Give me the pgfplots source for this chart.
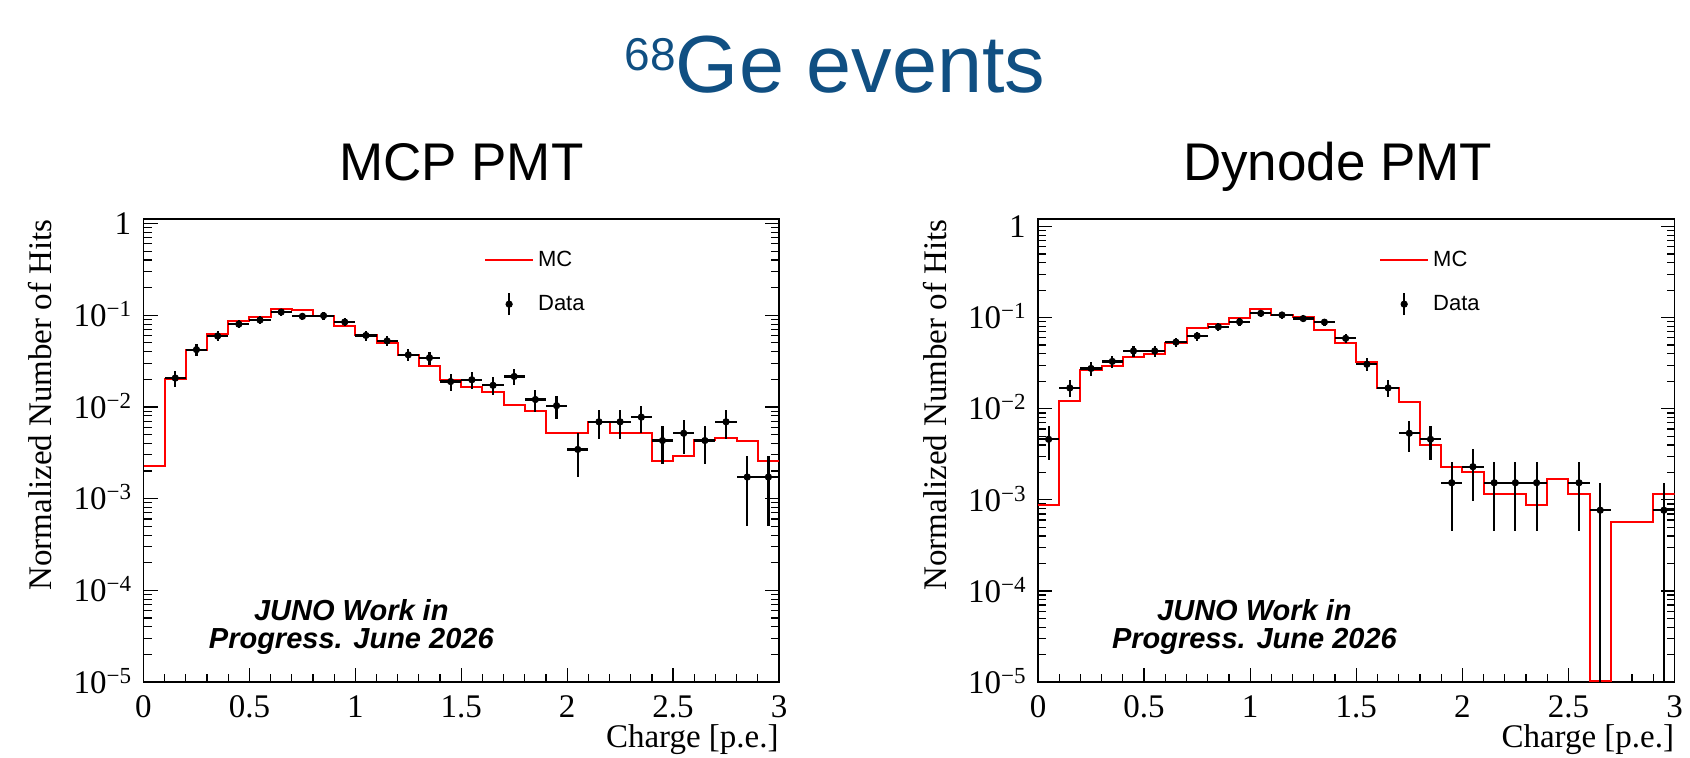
\documentclass[border=0pt]{standalone}
\usepackage{pgfplots}
\pgfplotsset{compat=1.18}
\usepackage{pgfplotstable}
\usepackage{fontspec}
\setmainfont{Liberation Sans}
\newfontfamily\tms{Liberation Serif}
\definecolor{titleblue}{RGB}{16,79,130}
\newcommand{\tp}[1]{10\raisebox{5pt}{\fontsize{11.5}{12}\selectfont #1}}

% MC histograms: left bin edge, content
\pgfplotstableread{
x y
0.0 0.00225
0.1 0.0204
0.2 0.0422
0.3 0.0621
0.4 0.0875
0.5 0.0967
0.6 0.117
0.7 0.115
0.8 0.0975
0.9 0.077
1.0 0.0605
1.1 0.0499
1.2 0.0372
1.3 0.0282
1.4 0.0197
1.5 0.0164
1.6 0.0145
1.7 0.0106
1.8 0.0091
1.9 0.0052
2.0 0.0052
2.1 0.0068
2.2 0.0052
2.3 0.0052
2.4 0.00255
2.5 0.00294
2.6 0.00433
2.7 0.00459
2.8 0.00422
2.9 0.0026
3.0 0.0026
}\mcL

\pgfplotstableread{
x y
0.0 0.000867
0.1 0.01214
0.2 0.0264
0.3 0.0297
0.4 0.0366
0.5 0.0399
0.6 0.0522
0.7 0.0769
0.8 0.0852
0.9 0.0992
1.0 0.1245
1.1 0.107
1.2 0.1026
1.3 0.0731
1.4 0.0522
1.5 0.0328
1.6 0.017
1.7 0.01175
1.8 0.00399
1.9 0.00227
2.0 0.0020
2.1 0.00115
2.2 0.00115
2.3 0.000867
2.4 0.00171
2.5 0.00115
2.6 0.0000102
2.7 0.000573
2.8 0.000573
2.9 0.00115
3.0 0.00115
}\mcR

% Data: bin centre, content, half bin width, errors
\pgfplotstableread{
x y ex eyp eym
0.15 0.02064 0.05 0.00421 0.00421
0.25 0.04213 0.05 0.00602 0.00602
0.35 0.05933 0.05 0.00714 0.00714
0.45 0.07997 0.05 0.00829 0.00829
0.55 0.08856 0.05 0.00873 0.00873
0.65 0.10834 0.05 0.00965 0.00965
0.75 0.09716 0.05 0.00914 0.00914
0.85 0.09888 0.05 0.00922 0.00922
0.95 0.08426 0.05 0.00851 0.00851
1.05 0.06019 0.05 0.00719 0.00719
1.15 0.05245 0.05 0.00672 0.00672
1.25 0.03697 0.05 0.00564 0.00564
1.35 0.03439 0.05 0.00544 0.00544
1.45 0.01892 0.05 0.00403 0.00403
1.55 0.01978 0.05 0.00412 0.00412
1.65 0.01720 0.05 0.00385 0.00385
1.75 0.02150 0.05 0.00430 0.00430
1.85 0.01204 0.05 0.00322 0.00322
1.95 0.01032 0.05 0.00298 0.00298
2.05 0.00344 0.05 0.00172 0.00172
2.15 0.00688 0.05 0.00243 0.00243
2.25 0.00688 0.05 0.00243 0.00243
2.35 0.00774 0.05 0.00258 0.00258
2.45 0.00430 0.05 0.00192 0.00192
2.55 0.00516 0.05 0.00211 0.00211
2.65 0.00430 0.05 0.00192 0.00192
2.75 0.00688 0.05 0.00243 0.00243
2.85 0.00172 0.05 0.00122 0.00122
2.95 0.00172 0.05 0.00122 0.00122
}\dataL

\pgfplotstableread{
x y ex eyp eym
0.05 0.00462 0.05 0.00188 0.00188
0.15 0.01692 0.05 0.00361 0.00361
0.25 0.02769 0.05 0.00462 0.00462
0.35 0.03308 0.05 0.00504 0.00504
0.45 0.04308 0.05 0.00576 0.00576
0.55 0.04308 0.05 0.00576 0.00576
0.65 0.05385 0.05 0.00644 0.00644
0.75 0.06308 0.05 0.00697 0.00697
0.85 0.07923 0.05 0.00781 0.00781
0.95 0.09000 0.05 0.00832 0.00832
1.05 0.11154 0.05 0.00926 0.00926
1.15 0.10692 0.05 0.00907 0.00907
1.25 0.09769 0.05 0.00867 0.00867
1.35 0.08923 0.05 0.00829 0.00829
1.45 0.05923 0.05 0.00675 0.00675
1.55 0.03077 0.05 0.00487 0.00487
1.65 0.01692 0.05 0.00361 0.00361
1.75 0.00538 0.05 0.00204 0.00204
1.85 0.00462 0.05 0.00188 0.00188
1.95 0.00154 0.05 0.00109 0.00109
2.05 0.00231 0.05 0.00133 0.00133
2.15 0.00154 0.05 0.00109 0.00109
2.25 0.00154 0.05 0.00109 0.00109
2.35 0.00154 0.05 0.00109 0.00109
2.55 0.00154 0.05 0.00109 0.00109
2.65 0.000769 0.05 0.000769 0.000768
2.95 0.000769 0.05 0.000769 0.000768
}\dataR

\begin{document}
\begin{tikzpicture}
\path[use as bounding box] (0pt,0pt) rectangle (845pt,378.5pt);

\node[anchor=base, inner sep=0pt, text=titleblue, font=\fontsize{40.5}{42}\selectfont] at (417.5pt,332.5pt)
  {\raisebox{10.5pt}{\fontsize{23}{24}\selectfont 68}Ge events};

\begin{axis}[at={(71.75pt,37.5pt)}, anchor=south west,
    scale only axis, width=317.75pt, height=231.5pt,
    xmin=0, xmax=3, ymode=log, ymin=1e-5, ymax=1.12,
    xtick={0,0.5,1,1.5,2,2.5,3}, xticklabels={0,0.5,1,1.5,2,2.5,3},
    minor x tick num=4,
    ytick={1e-5,1e-4,1e-3,1e-2,1e-1,1},
    yticklabels={\tp{−5},\tp{−4},\tp{−3},\tp{−2},\tp{−1},1},
    minor ytick={2e-5,3e-5,4e-5,5e-5,6e-5,7e-5,8e-5,9e-5,
                 2e-4,3e-4,4e-4,5e-4,6e-4,7e-4,8e-4,9e-4,
                 2e-3,3e-3,4e-3,5e-3,6e-3,7e-3,8e-3,9e-3,
                 2e-2,3e-2,4e-2,5e-2,6e-2,7e-2,8e-2,9e-2,
                 2e-1,3e-1,4e-1,5e-1,6e-1,7e-1,8e-1,9e-1},
    tick align=inside, xtick pos=left, ytick pos=both,
    major tick length=7pt, minor tick length=4pt,
    tick style={black, line width=0.6pt},
    axis line style={line width=0.75pt, black},
    ticklabel style={font=\tms\fontsize{16.5}{18}\selectfont, inner sep=0pt},
    xticklabel style={anchor=base, yshift=-17.5pt},
    yticklabel style={anchor=base east, xshift=-6pt, yshift=-5.6pt},
    label style={font=\tms\fontsize{16.5}{18}\selectfont, inner sep=0pt},
    xlabel={Charge [p.e.]},
    xlabel style={at={(rel axis cs:1,0)}, anchor=base east, yshift=-32.5pt},
    ylabel={Normalized Number of Hits},
    ylabel style={at={(rel axis cs:0,1)}, anchor=base east, yshift=46pt},
    title={MCP PMT},
    title style={font=\fontsize{26.5}{28}\selectfont, at={(rel axis cs:0.5,1)}, anchor=base, yshift=13.5pt, inner sep=0pt},
    legend cell align=left,
    legend style={at={(rel axis cs:0.536,0.864)}, anchor=west, draw=none, fill=none,
      inner sep=0pt, outer sep=0pt, row sep=9pt,
      font=\fontsize{11}{12}\selectfont,
      /tikz/every even column/.append style={column sep=1pt}},
  ]
  \addplot[const plot, red, line width=1.0pt,
    legend image code/.code={\draw[red, line width=1.0pt] (0pt,0pt) -- (24pt,0pt);}]
    table[x=x, y=y] {\mcL};
  \addlegendentry{MC}
  \addplot[only marks, mark=*, mark size=1.6pt, black,
    legend image code/.code={\draw[black, line width=1.1pt] (12pt,-5.5pt) -- (12pt,5.5pt); \fill[black] (12pt,0pt) circle (1.6pt);},
    error bars/.cd, x dir=both, x explicit, y dir=both, y explicit,
    error mark=none, error bar style={line width=1.1pt, black}]
    table[x=x, y=y, x error=ex, y error plus=eyp, y error minus=eym] {\dataL};
  \addlegendentry{Data}
  \node[anchor=base, inner sep=0pt, font=\bfseries\itshape\fontsize{14.5}{15}\selectfont] at (rel axis cs:0.327,0.1318) {JUNO Work in};
  \node[anchor=base, inner sep=0pt, font=\bfseries\itshape\fontsize{14.5}{15}\selectfont] at (rel axis cs:0.327,0.0734) {Progress. June 2026};
\end{axis}

\begin{axis}[at={(519pt,37.5pt)}, anchor=south west,
    scale only axis, width=318.25pt, height=231.5pt,
    xmin=0, xmax=3, ymode=log, ymin=1e-5, ymax=1.21,
    xtick={0,0.5,1,1.5,2,2.5,3}, xticklabels={0,0.5,1,1.5,2,2.5,3},
    minor x tick num=4,
    ytick={1e-5,1e-4,1e-3,1e-2,1e-1,1},
    yticklabels={\tp{−5},\tp{−4},\tp{−3},\tp{−2},\tp{−1},1},
    minor ytick={2e-5,3e-5,4e-5,5e-5,6e-5,7e-5,8e-5,9e-5,
                 2e-4,3e-4,4e-4,5e-4,6e-4,7e-4,8e-4,9e-4,
                 2e-3,3e-3,4e-3,5e-3,6e-3,7e-3,8e-3,9e-3,
                 2e-2,3e-2,4e-2,5e-2,6e-2,7e-2,8e-2,9e-2,
                 2e-1,3e-1,4e-1,5e-1,6e-1,7e-1,8e-1,9e-1},
    tick align=inside, xtick pos=left, ytick pos=both,
    major tick length=7pt, minor tick length=4pt,
    tick style={black, line width=0.6pt},
    axis line style={line width=0.75pt, black},
    ticklabel style={font=\tms\fontsize{16.5}{18}\selectfont, inner sep=0pt},
    xticklabel style={anchor=base, yshift=-17.5pt},
    yticklabel style={anchor=base east, xshift=-6pt, yshift=-5.6pt},
    label style={font=\tms\fontsize{16.5}{18}\selectfont, inner sep=0pt},
    xlabel={Charge [p.e.]},
    xlabel style={at={(rel axis cs:1,0)}, anchor=base east, yshift=-32.5pt},
    ylabel={Normalized Number of Hits},
    ylabel style={at={(rel axis cs:0,1)}, anchor=base east, yshift=46pt},
    title={Dynode PMT},
    title style={font=\fontsize{26.5}{28}\selectfont, at={(rel axis cs:0.5,1)}, anchor=base, yshift=13.5pt, xshift=-9.25pt, inner sep=0pt},
    legend cell align=left,
    legend style={at={(rel axis cs:0.536,0.864)}, anchor=west, draw=none, fill=none,
      inner sep=0pt, outer sep=0pt, row sep=9pt,
      font=\fontsize{11}{12}\selectfont,
      /tikz/every even column/.append style={column sep=1pt}},
  ]
  \addplot[const plot, red, line width=1.0pt,
    legend image code/.code={\draw[red, line width=1.0pt] (0pt,0pt) -- (24pt,0pt);}]
    table[x=x, y=y] {\mcR};
  \addlegendentry{MC}
  \addplot[only marks, mark=*, mark size=1.6pt, black,
    legend image code/.code={\draw[black, line width=1.1pt] (12pt,-5.5pt) -- (12pt,5.5pt); \fill[black] (12pt,0pt) circle (1.6pt);},
    error bars/.cd, x dir=both, x explicit, y dir=both, y explicit,
    error mark=none, error bar style={line width=1.1pt, black}]
    table[x=x, y=y, x error=ex, y error plus=eyp, y error minus=eym] {\dataR};
  \addlegendentry{Data}
  \node[anchor=base, inner sep=0pt, font=\bfseries\itshape\fontsize{14.5}{15}\selectfont] at (rel axis cs:0.340,0.1318) {JUNO Work in};
  \node[anchor=base, inner sep=0pt, font=\bfseries\itshape\fontsize{14.5}{15}\selectfont] at (rel axis cs:0.340,0.0734) {Progress. June 2026};
\end{axis}
\end{tikzpicture}
\end{document}
